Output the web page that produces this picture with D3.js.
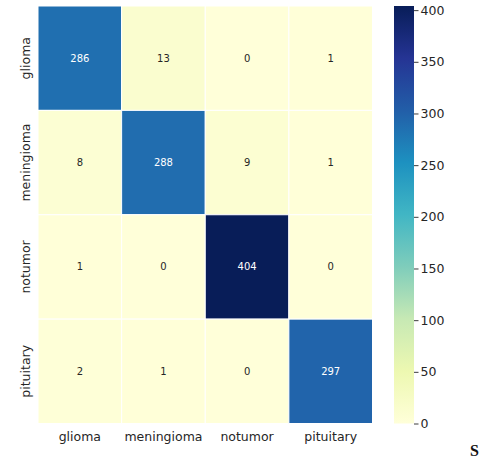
<!DOCTYPE html>
<html>
<head>
<meta charset="utf-8">
<script src="https://cdn.jsdelivr.net/npm/d3@7"></script>
<style>
  html, body { margin: 0; padding: 0; background: #fff; }
  svg { display: block; font-family: "DejaVu Sans", sans-serif; }
</style>
</head>
<body>
<svg id="chart" width="482" height="459"></svg>
<script>
// Confusion matrix: rows = true class, columns = predicted class
const classes = ["glioma", "meningioma", "notumor", "pituitary"];
const matrix = [
  [286, 13, 0, 1],
  [8, 288, 9, 1],
  [1, 0, 404, 0],
  [2, 1, 0, 297]
];
const colorbarTicks = [0, 50, 100, 150, 200, 250, 300, 350, 400];
// ColorBrewer YlGnBu stops (piecewise linear, like matplotlib's colormap)
const ylgnbu = ["#ffffd9", "#edf8b1", "#c7e9b4", "#7fcdbb", "#41b6c4", "#1d91c0", "#225ea8", "#253494", "#081d58"];

const svg = d3.select("#chart");
const plot = { left: 38, top: 6, right: 372.5, bottom: 423.5 };
const cbar = { left: 394, right: 414 };

const vmax = d3.max(matrix.flat());
const color = d3.scaleLinear()
  .domain(ylgnbu.map((_, i) => vmax * i / (ylgnbu.length - 1)))
  .range(ylgnbu)
  .interpolate(d3.interpolateRgb)
  .clamp(true);

const x = d3.scaleBand().domain(classes).range([plot.left, plot.right]);
const y = d3.scaleBand().domain(classes).range([plot.top, plot.bottom]);

const cells = [];
matrix.forEach((row, i) => row.forEach((v, j) => cells.push({ r: classes[i], c: classes[j], v })));

svg.append("g").selectAll("rect").data(cells).join("rect")
  .attr("x", d => x(d.c))
  .attr("y", d => y(d.r))
  .attr("width", x.bandwidth())
  .attr("height", y.bandwidth())
  .attr("fill", d => color(d.v))
  .attr("stroke", "#fff")
  .attr("stroke-width", 1);

// Cell annotations: light text on dark cells
svg.append("g").selectAll("text").data(cells).join("text")
  .attr("x", d => x(d.c) + x.bandwidth() / 2)
  .attr("y", d => y(d.r) + y.bandwidth() / 2)
  .attr("text-anchor", "middle")
  .attr("dominant-baseline", "central")
  .attr("font-size", "10px")
  .attr("fill", d => {
    const c = d3.rgb(color(d.v));
    const lum = 0.2126 * c.r + 0.7152 * c.g + 0.0722 * c.b;
    return lum < 140 ? "#ffffff" : "#262626";
  })
  .text(d => d.v);

// Category axes without tick marks
const xAxis = svg.append("g")
  .attr("transform", `translate(0,${plot.bottom})`)
  .call(d3.axisBottom(x).tickSize(0).tickPadding(9));
xAxis.select(".domain").remove();
xAxis.selectAll("text").attr("font-size", "12.5px").attr("fill", "#262626").attr("font-family", "DejaVu Sans");

const yAxis = svg.append("g")
  .attr("transform", `translate(${plot.left},0)`)
  .call(d3.axisLeft(y).tickSize(0).tickPadding(0));
yAxis.select(".domain").remove();
yAxis.selectAll("text")
  .attr("font-size", "12.5px").attr("fill", "#262626").attr("font-family", "DejaVu Sans")
  .attr("text-anchor", "middle")
  .attr("dy", null)
  .attr("x", null)
  .attr("transform", "translate(-12,0) rotate(-90)")
  .attr("dominant-baseline", "middle");

// Colour bar
const cy = d3.scaleLinear().domain([0, vmax]).range([plot.bottom, plot.top]);
const defs = svg.append("defs");
const grad = defs.append("linearGradient").attr("id", "cbar-grad")
  .attr("x1", 0).attr("y1", 1).attr("x2", 0).attr("y2", 0);
ylgnbu.forEach((c, i) => grad.append("stop")
  .attr("offset", i / (ylgnbu.length - 1))
  .attr("stop-color", c));
svg.append("rect")
  .attr("x", cbar.left).attr("y", plot.top)
  .attr("width", cbar.right - cbar.left)
  .attr("height", plot.bottom - plot.top)
  .attr("fill", "url(#cbar-grad)");

const cAxis = svg.append("g")
  .attr("transform", `translate(${cbar.right},0)`)
  .call(d3.axisRight(cy).tickValues(colorbarTicks).tickSize(4.5).tickPadding(2));
cAxis.select(".domain").remove();
cAxis.selectAll("line").attr("stroke", "#262626").attr("stroke-width", 0.9);
cAxis.selectAll("text").attr("font-size", "12.5px").attr("fill", "#262626").attr("font-family", "DejaVu Sans");

// Stray glyph at lower-right corner
svg.append("text")
  .attr("x", 470).attr("y", 456)
  .attr("font-family", "Liberation Serif, serif")
  .attr("font-weight", "bold")
  .attr("font-size", "16px")
  .attr("fill", "#111")
  .text("S");
</script>
</body>
</html>
